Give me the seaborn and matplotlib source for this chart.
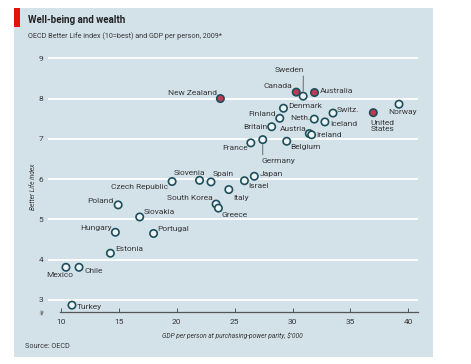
import numpy as np
import pandas as pd
import matplotlib
matplotlib.use("Agg")
import matplotlib.pyplot as plt
import matplotlib.patches as mpatches
import seaborn as sns

countries = ["Mexico", "Chile", "Turkey", "Estonia", "Hungary", "Poland", "Slovakia",
             "Portugal", "Czech Republic", "Slovenia", "Spain", "South Korea", "Greece",
             "Italy", "New Zealand", "Israel", "Japan", "France", "Germany", "Britain",
             "Finland", "Denmark", "Belgium", "Canada", "Sweden", "Austria", "Ireland",
             "Neth.", "Australia", "Iceland", "Switz.", "United\nStates", "Norway"]
gdp = [10.43, 11.56, 10.95, 14.27, 14.7, 14.94, 16.8,
       18.0, 19.6, 21.97, 22.96, 23.4, 23.6,
       24.5, 23.77, 25.85, 26.7, 26.4, 27.43, 28.2,
       28.9, 29.22, 29.5, 30.32, 30.92, 31.45, 31.65,
       31.88, 31.9, 32.8, 33.5, 36.98, 39.2]
bli = [3.81, 3.81, 2.87, 4.16, 4.68, 5.36, 5.06,
       4.65, 5.94, 5.97, 5.93, 5.38, 5.28,
       5.74, 8.0, 5.96, 6.07, 6.9, 6.98, 7.30,
       7.51, 7.76, 6.94, 8.16, 8.06, 7.13, 7.10,
       7.49, 8.15, 7.42, 7.64, 7.65, 7.86]
highlight = ["New Zealand", "Canada", "Australia", "United\nStates"]

# label placement: (dx px, dy px, ha)
label_pos = {
    "Mexico": (-6, -8, "center"), "Chile": (5, -4, "left"), "Turkey": (5, -2, "left"),
    "Estonia": (5, 4, "left"), "Hungary": (-4, 4, "right"), "Poland": (-5, 4, "right"),
    "Slovakia": (4, 5, "left"), "Portugal": (4, 4, "left"),
    "Czech Republic": (-4, -5, "right"), "Slovenia": (-10, 7, "center"),
    "Spain": (2, 8, "left"), "South Korea": (-3, 6, "right"), "Greece": (3, -7, "left"),
    "Italy": (4, -8, "left"), "New Zealand": (-3, 6, "right"), "Israel": (4, -5, "left"),
    "Japan": (5, 2, "left"), "France": (-3, -5, "right"), "Germany": (-1, -21, "left"),
    "Britain": (-4, 0, "right"), "Finland": (-4, 4, "right"), "Denmark": (5, 2, "left"),
    "Belgium": (4, -6, "left"), "Canada": (-4, 6, "right"), "Sweden": (1, 26, "right"),
    "Austria": (-3, 5, "right"), "Ireland": (5, 0, "left"), "Neth.": (-4, 1, "right"),
    "Australia": (5, 2, "left"), "Iceland": (5, -2, "left"), "Switz.": (4, 3, "left"),
    "United\nStates": (-3, -13, "left"), "Norway": (4, -8, "center"),
}
leaders = {"Sweden": (0.97, 0.0), "Germany": (0.03, 1.0)}

df = pd.DataFrame({"country": countries, "gdp": gdp, "bli": bli})
df["group"] = np.where(df["country"].isin(highlight), "red", "other")

W, H = 471, 364
panel = "#d3e1e9"
ink = "#383838"
font = "Roboto"

fig = plt.figure(figsize=(W / 100, H / 100), dpi=100)
fig.patch.set_facecolor("white")
fig.patches.append(mpatches.Rectangle((14 / W, 1 - 357 / H), (433 - 14) / W, (357 - 8) / H,
                                      transform=fig.transFigure, facecolor=panel,
                                      edgecolor="none", zorder=-10))
fig.patches.append(mpatches.Rectangle((14 / W, 1 - 27 / H), 6 / W, 19 / H,
                                      transform=fig.transFigure, facecolor="#e3120b",
                                      edgecolor="none", zorder=-5))

ax = fig.add_axes([48 / W, 1 - 312 / H, (418 - 48) / W, (312 - 56) / H])
ax.set_zorder(2)
ax.set_facecolor(panel)

sns.scatterplot(data=df, x="gdp", y="bli", hue="group",
                palette={"other": "#eef4f6", "red": "#c23a52"},
                edgecolor="#1d4f5b", linewidth=1.2, s=28, legend=False, ax=ax, zorder=3)

for c, x, y in zip(countries, gdp, bli):
    dx, dy, ha = label_pos[c]
    kw = {}
    if c in leaders:
        kw["arrowprops"] = dict(arrowstyle="-", color="#555555", lw=0.6,
                                shrinkA=0, shrinkB=3.5, relpos=leaders[c])
    ax.annotate(c, (x, y), xytext=(dx, dy), textcoords="offset pixels",
                ha=ha, va="center", fontsize=6.0, color=ink, family=font,
                linespacing=1.0, zorder=4, **kw)

ax.set_xlim(8.88, 40.84)
ax.set_ylim(2.70, 9.057)
ax.set_xticks(range(10, 41, 5))
ax.set_yticks(range(3, 10))
ax.grid(False)
for yv in range(3, 10):
    ax.axhline(yv, color="white", lw=1.3, zorder=1)
for s in ["top", "right", "left"]:
    ax.spines[s].set_visible(False)
ax.spines["bottom"].set_color("#555555")
ax.spines["bottom"].set_linewidth(0.9)
ax.spines["bottom"].set_bounds(9.95, 40.84)
ax.tick_params(axis="x", direction="in", length=3, width=0.7, color="#555555",
               labelsize=6.0, labelcolor=ink, pad=5)
ax.tick_params(axis="y", length=0, labelsize=6.0, labelcolor=ink, pad=3.5)
for lab in ax.get_xticklabels() + ax.get_yticklabels():
    lab.set_family(font)
ax.set_xlabel("")
ax.set_ylabel("")

fig.text(42 / W, 1 - 312 / H, "≠", fontsize=5, color="#555555", ha="center", va="center",
         rotation=60)
fig.text(28 / W, 1 - 20 / H, "Well-being and wealth", fontsize=7, fontweight="bold",
         color="#222222", va="center", family=font)
fig.text(28 / W, 1 - 36 / H, "OECD Better Life index (10=best) and GDP per person, 2009*",
         fontsize=5.2, color=ink, va="center", family=font)
fig.text(33 / W, 1 - 187 / H, "Better Life index", fontsize=4.8, style="italic", color=ink,
         rotation=90, ha="center", va="center", family=font)
fig.text(162 / W, 1 - 336 / H, "GDP per person at purchasing-power parity, $'000",
         fontsize=4.8, style="italic", color=ink, ha="left", va="center", family=font)
fig.text(25 / W, 1 - 347 / H, "Source: OECD", fontsize=5.2, color=ink, va="center",
         family=font)

fig.savefig("out.png", dpi=100, facecolor="white")
